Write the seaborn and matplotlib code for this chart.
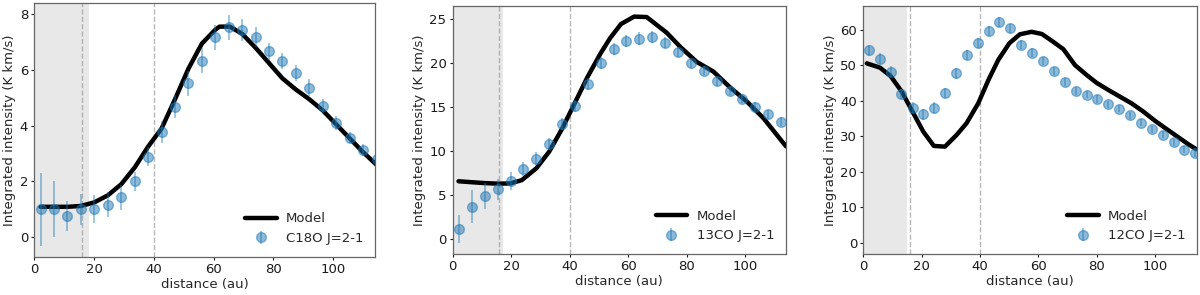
import numpy as np
import pandas as pd
import matplotlib
matplotlib.use("Agg")
import matplotlib.pyplot as plt
import seaborn as sns

# C18O J=2-1 panel
c18o_dist = [2.1, 6.6, 11.1, 15.6, 20.1, 24.6, 29.1, 33.6, 38.1, 42.6, 47.1, 51.6, 56.1,
             60.6, 65.1, 69.6, 74.1, 78.6, 83.1, 87.6, 92.1, 96.6, 101.1, 105.6, 110.1, 114.6]
c18o_obs = [1.0, 1.0, 0.76, 1.0, 1.0, 1.16, 1.43, 2.0, 2.89, 3.78, 4.69, 5.53, 6.33,
            7.18, 7.54, 7.45, 7.18, 6.67, 6.33, 5.89, 5.37, 4.71, 4.09, 3.57, 3.13, 2.79]
c18o_err = [1.3, 1.0, 0.55, 0.55, 0.5, 0.45, 0.45, 0.35, 0.35, 0.4, 0.4, 0.45, 0.45,
            0.45, 0.45, 0.4, 0.35, 0.3, 0.3, 0.3, 0.3, 0.25, 0.25, 0.2, 0.2, 0.2]
c18o_model_dist = [2.1, 6.6, 11.1, 15.6, 20.1, 24.6, 29.1, 33.6, 38.1, 42.6, 47.1, 51.6, 56.1,
                   60.6, 62.0, 65.5, 69.6, 74.1, 78.6, 83.1, 87.6, 92.1, 96.6, 101.1, 105.6,
                   110.1, 114.6]
c18o_model = [1.09, 1.09, 1.09, 1.12, 1.25, 1.5, 1.9, 2.5, 3.25, 3.9, 4.95, 6.05, 6.95,
              7.45, 7.56, 7.56, 7.3, 6.8, 6.25, 5.7, 5.3, 4.95, 4.55, 4.05, 3.55, 3.05, 2.6]

# 13CO J=2-1 panel
co13_dist = [2.2, 6.6, 11.0, 15.4, 19.8, 24.2, 28.6, 33.0, 37.4, 41.8, 46.2, 50.6, 55.0,
             59.4, 63.8, 68.2, 72.6, 77.0, 81.4, 85.8, 90.2, 94.6, 99.0, 103.4, 107.8, 112.2]
co13_obs = [1.14, 3.64, 4.86, 5.62, 6.56, 7.9, 9.1, 10.8, 13.05, 15.06, 17.6, 19.95, 21.6,
            22.5, 22.75, 22.95, 22.3, 21.2, 19.95, 19.1, 17.9, 16.8, 15.9, 15.0, 14.15, 13.3]
co13_err = [1.6, 1.9, 1.5, 1.2, 1.0, 0.8, 0.7, 0.7, 0.7, 0.7, 0.7, 0.7, 0.7,
            0.7, 0.7, 0.7, 0.6, 0.6, 0.5, 0.5, 0.5, 0.5, 0.5, 0.5, 0.5, 0.5]
co13_model_dist = [2.0, 6.5, 11.0, 15.4, 19.6, 23.6, 28.6, 33.0, 37.4, 41.7, 46.1, 50.6,
                   53.8, 57.5, 62.0, 66.3, 73.2, 77.8, 83.4, 89.1, 94.8, 100.5, 106.2, 113.9]
co13_model = [6.53, 6.42, 6.32, 6.26, 6.28, 6.65, 8.0, 9.9, 12.5, 15.4, 18.4, 21.1,
              22.8, 24.4, 25.25, 25.2, 23.4, 21.8, 20.1, 19.0, 17.2, 15.6, 13.7, 10.5]

# 12CO J=2-1 panel
co12_dist = [1.9, 5.7, 9.4, 13.1, 16.9, 20.6, 24.3, 28.1, 31.8, 35.5, 39.3, 43.0, 46.7,
             50.4, 54.2, 57.9, 61.6, 65.4, 69.1, 72.8, 76.6, 80.3, 84.0, 87.7, 91.5, 95.2,
             98.9, 102.7, 106.4, 110.1, 113.9]
co12_obs = [54.3, 51.9, 48.3, 42.0, 38.1, 36.2, 38.1, 42.2, 47.8, 53.0, 56.4, 59.7, 62.2,
            60.5, 55.9, 53.6, 51.2, 48.4, 45.4, 42.9, 41.8, 40.5, 39.1, 37.8, 36.0, 33.9,
            32.0, 30.4, 28.3, 26.2, 25.2]
co12_err = [1.6, 1.6, 1.5, 1.5, 1.5, 1.5, 1.5, 1.5, 1.5, 1.4, 1.4, 1.4, 1.4,
            1.3, 1.3, 1.2, 1.2, 1.2, 1.1, 1.1, 1.1, 1.1, 1.0, 1.0, 1.0, 1.0,
            1.0, 1.0, 1.0, 1.0, 1.0]
co12_model_dist = [1.2, 5.7, 9.4, 13.2, 16.6, 20.6, 24.2, 28.0, 32.0, 35.4, 39.4, 42.9,
                   46.3, 50.1, 53.7, 57.7, 61.2, 65.1, 68.6, 72.6, 76.6, 80.0, 84.0, 88.0,
                   92.0, 96.0, 100.0, 103.4, 107.4, 111.4, 114.1]
co12_model = [50.6, 49.4, 47.0, 42.6, 37.4, 31.3, 27.3, 27.1, 30.4, 33.7, 39.3, 45.9,
              51.6, 56.3, 58.8, 59.5, 58.9, 56.7, 54.6, 50.1, 47.3, 45.1, 43.1, 41.2,
              39.3, 37.0, 34.4, 32.4, 30.1, 27.8, 26.4]


def draw_panel(ax, dist, obs, err, model_dist, model, label, shade_end, xmax, ylim, yticks):
    ax.axvspan(0, shade_end, color="0.91", lw=0, zorder=0)
    for xv in (16, 40):
        ax.axvline(xv, color="0.6", ls="--", lw=1.0, alpha=0.7, zorder=1)

    model_df = pd.DataFrame({"distance": model_dist, "intensity": model})
    sns.lineplot(data=model_df, x="distance", y="intensity", ax=ax, color="black",
                 lw=3.2, sort=False, label="Model", zorder=3)
    ax.errorbar(dist, obs, yerr=err, fmt="o", color="C0", ms=7, alpha=0.5,
                elinewidth=1.2, label=label, zorder=4)

    ax.set_xlim(0, xmax)
    ax.set_ylim(*ylim)
    ax.set_yticks(yticks)
    ax.set_xticks([0, 20, 40, 60, 80, 100])
    ax.tick_params(length=2.5, pad=2, width=0.8, colors="0.1")
    ax.set_xlabel("distance (au)", labelpad=1.5)
    ax.set_ylabel("Integrated intensity (K km/s)", labelpad=2.5)
    ax.legend(loc="lower right", frameon=False, handlelength=2.4, handletextpad=0.7)
    for sp in ax.spines.values():
        sp.set_color("0.4")
        sp.set_linewidth(0.9)


def main():
    sns.set_style("ticks")
    plt.rcParams["font.family"] = ["DejaVu Sans"]
    plt.rcParams["font.size"] = 9.5
    plt.rcParams["xtick.labelsize"] = 9.5
    plt.rcParams["ytick.labelsize"] = 9.5
    plt.rcParams["axes.labelsize"] = 9.5
    plt.rcParams["legend.fontsize"] = 9.5

    fig = plt.figure(figsize=(12, 2.95), dpi=100)
    ax1 = fig.add_axes([0.0286, 0.130, 0.2842, 0.859])
    ax2 = fig.add_axes([0.3772, 0.139, 0.2778, 0.842])
    ax3 = fig.add_axes([0.7194, 0.139, 0.2783, 0.842])

    draw_panel(ax1, c18o_dist, c18o_obs, c18o_err, c18o_model_dist, c18o_model,
               "C18O J=2-1", 18.2, 114.2, (-0.7, 8.4), [0, 2, 4, 6, 8])
    draw_panel(ax2, co13_dist, co13_obs, co13_err, co13_model_dist, co13_model,
               "13CO J=2-1", 17.1, 113.9, (-1.74, 26.5), [0, 5, 10, 15, 20, 25])
    draw_panel(ax3, co12_dist, co12_obs, co12_err, co12_model_dist, co12_model,
               "12CO J=2-1", 14.9, 114.5, (-3.2, 66.9), [0, 10, 20, 30, 40, 50, 60])

    fig.savefig("out.png", dpi=100)


if __name__ == "__main__":
    main()
